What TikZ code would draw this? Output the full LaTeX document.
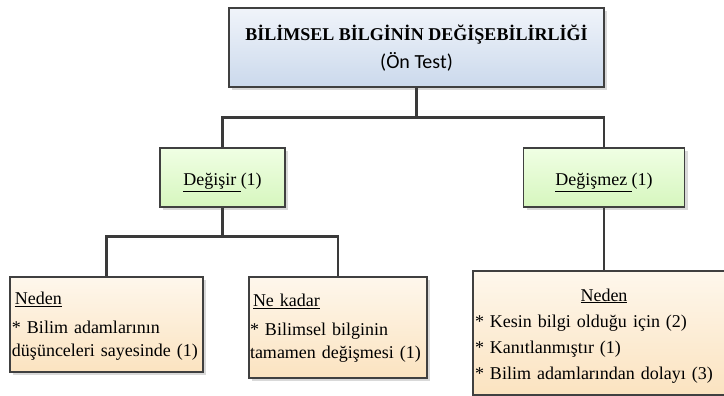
\documentclass[tikz,border=0pt]{standalone}
\usepackage{fontspec}
\setmainfont{Liberation Serif}
\newfontfamily\calibri{Carlito}
\usetikzlibrary{shadows}

\definecolor{boxline}{RGB}{64,64,64}
\definecolor{linkline}{RGB}{58,58,58}
\definecolor{bluetop}{RGB}{240,244,250}
\definecolor{bluebot}{RGB}{203,217,236}
\definecolor{greentop}{RGB}{240,255,228}
\definecolor{greenbot}{RGB}{214,246,190}
\definecolor{peachtop}{RGB}{254,247,236}
\definecolor{peachbot}{RGB}{251,227,192}

\tikzset{
  box/.style={rectangle, draw=boxline, line width=1.2pt, inner sep=0pt,
    drop shadow={shadow xshift=3pt, shadow yshift=-3pt, fill=black!15, opacity=1}},
  titlebox/.style={box, top color=bluetop, bottom color=bluebot},
  answerbox/.style={box, top color=greentop, bottom color=greenbot},
  reasonbox/.style={box, top color=peachtop, bottom color=peachbot, align=left},
  link/.style={draw=linkline, line width=2.4pt},
}

\begin{document}
\begin{tikzpicture}[x=1pt, y=-1pt]
  \useasboundingbox (0,0) rectangle (724,396);
  \clip (0,0) rectangle (724,396);

  % top of the tree
  \node [titlebox, minimum width=375pt, minimum height=79pt, align=center,
    font=\fontsize{18}{30}\selectfont] (title) at (416.5,47.5)
    {\raisebox{-2pt}[\height][\depth]{\bfseries BİLİMSEL BİLGİNİN DEĞİŞEBİLİRLİĞİ}\\{\calibri\fontsize{20}{30}\selectfont (Ön Test)}};

  % answers
  \node [answerbox, minimum width=125pt, minimum height=59pt,
    font=\fontsize{18}{22}\selectfont] (degisir) at (222.5,177.5)
    {\raisebox{-5pt}[\height][\depth]{\underline{Değişir }(1)}};
  \node [answerbox, minimum width=161pt, minimum height=59pt,
    font=\fontsize{18}{22}\selectfont] (degismez) at (604,177.5)
    {\raisebox{-5pt}[\height][\depth]{\underline{Değişmez }(1)}};

  % reasons
  \node [reasonbox, minimum width=193pt, minimum height=95pt, text width=189pt, inner xsep=2pt,
    font=\fontsize{18}{23}\selectfont] (nedenA) at (106.5,324.5)
    {\rule{0pt}{16pt}\,\underline{Neden}\\[6pt]* Bilim adamlarının\\düşünceleri sayesinde (1)};
  \node [reasonbox, minimum width=178pt, minimum height=101pt, text width=176pt, inner xsep=1pt,
    font=\fontsize{18}{23}\selectfont] (nekadar) at (338,327.5)
    {\rule{0pt}{14pt}\,\underline{Ne kadar}\\[6pt]* Bilimsel bilginin\\tamamen değişmesi (1)};
  \node [reasonbox, minimum width=262pt, minimum height=124pt, text width=258pt, inner xsep=2pt,
    font=\fontsize{18}{26}\selectfont] (nedenB) at (604,333)
    {\rule{0pt}{18pt}\makebox[258pt]{\underline{Neden}}\\{}* Kesin bilgi olduğu için (2)\\{}* Kanıtlanmıştır (1)\\{}* Bilim adamlarından dolayı (3)};

  \draw [link] (title.south) -- ++(0,30) -| (degisir.north);
  \draw [link] (title.south) -- ++(0,30) -| (degismez.north);
  \draw [link] (degisir.south) -- ++(0,29) -| (nedenA.north);
  \draw [link] (degisir.south) -- ++(0,29) -| (nekadar.north);
  \draw [link] (degismez.south) -- (nedenB.north);
\end{tikzpicture}
\end{document}
